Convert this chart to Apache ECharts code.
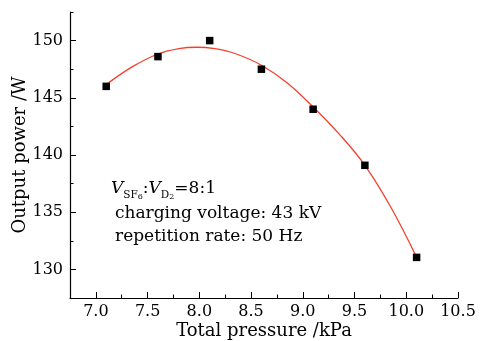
<!DOCTYPE html>
<html>
<head>
<meta charset="utf-8">
<script src="https://cdn.jsdelivr.net/npm/echarts@6/dist/echarts.min.js"></script>
<style>html,body{margin:0;padding:0;background:#fff;}#c{width:483px;height:341px;}</style>
</head>
<body>
<div id="c"></div>
<script>
// Measured points
var pressure = [7.1, 7.6, 8.1, 8.6, 9.1, 9.6, 10.1];
var power = [146.0, 148.6, 150.0, 147.5, 144.0, 139.1, 131.05];
// Fitted curve
var fitX = [7.1, 7.35, 7.6, 7.8, 7.975, 8.15, 8.35, 8.6, 8.85, 9.1, 9.35, 9.6, 9.85, 10.1];
var fitY = [146.15, 147.7, 148.83, 149.29, 149.42, 149.29, 148.85, 147.85, 146.3, 144.2, 141.85, 139.1, 135.45, 131.05];
// Tick labels
var xTicks = [7.0, 7.5, 8.0, 8.5, 9.0, 9.5, 10.0, 10.5];
var yTicks = [130, 135, 140, 145, 150];

var serif = 'DejaVu Serif';
var chart = echarts.init(document.getElementById('c'), null, {renderer: 'canvas'});
var axisCol = '#000';
chart.setOption({
  animation: false,
  backgroundColor: '#fff',
  grid: {left: 70, right: 25, top: 12, bottom: 43, containLabel: false, outerBoundsMode: 'none'},
  xAxis: [{
    type: 'value', min: 6.75, max: 10.5, interval: 0.25, position: 'bottom',
    axisLine: {show: true, lineStyle: {color: axisCol, width: 1.2}},
    axisTick: {show: true, inside: true, length: 3.5, lineStyle: {color: axisCol, width: 1}},
    axisLabel: {show: false}, splitLine: {show: false}
  }, {
    type: 'value', min: 6.75, max: 10.5, position: 'bottom',
    name: 'Total pressure /kPa', nameLocation: 'middle', nameGap: 24, nameMoveOverlap: false,
    nameTextStyle: {fontFamily: serif, fontSize: 18, color: '#000'},
    axisLine: {show: false},
    axisTick: {show: true, inside: true, length: 6, customValues: xTicks, lineStyle: {color: axisCol, width: 1}},
    axisLabel: {show: true, customValues: xTicks, margin: 6, fontFamily: serif, fontSize: 16, color: '#000',
      formatter: function (v) { return Number(v).toFixed(1); }},
    splitLine: {show: false}
  }],
  yAxis: [{
    type: 'value', min: 127.5, max: 152.5, interval: 2.5, position: 'left',
    axisLine: {show: true, lineStyle: {color: axisCol, width: 1.2}},
    axisTick: {show: true, inside: true, length: 3.5, lineStyle: {color: axisCol, width: 1}},
    axisLabel: {show: false}, splitLine: {show: false}
  }, {
    type: 'value', min: 127.5, max: 152.5, position: 'left',
    name: 'Output power /W', nameLocation: 'middle', nameGap: 41, nameRotate: 90, nameMoveOverlap: false,
    nameTextStyle: {fontFamily: serif, fontSize: 18, color: '#000'},
    axisLine: {show: false},
    axisTick: {show: true, inside: true, length: 6, customValues: yTicks, lineStyle: {color: axisCol, width: 1}},
    axisLabel: {show: true, customValues: yTicks, margin: 7, fontFamily: serif, fontSize: 16, color: '#000'},
    splitLine: {show: false}
  }],
  series: [{
    type: 'line', xAxisIndex: 0, yAxisIndex: 0,
    data: fitX.map(function (x, i) { return [x, fitY[i]]; }),
    smooth: 0.4, showSymbol: false, symbol: 'none',
    lineStyle: {color: '#f2402c', width: 1.3}, z: 2
  }, {
    type: 'scatter', xAxisIndex: 0, yAxisIndex: 0,
    data: pressure.map(function (x, i) { return [x, power[i]]; }),
    symbol: 'rect', symbolSize: 7.5,
    itemStyle: {color: '#000', opacity: 1}, z: 3
  }],
  graphic: [{
    type: 'text', left: 111, top: 180,
    style: {
      text: '{v|V}{s|SF}{ss|6}{m|:}{v|V}{s|D}{ss|2}{m|=8:1}',
      rich: {
        v: {fontFamily: serif, fontStyle: 'italic', fontSize: 17, lineHeight: 24, fill: '#000'},
        m: {fontFamily: serif, fontSize: 17, lineHeight: 24, fill: '#000'},
        s: {fontFamily: serif, fontSize: 10.5, lineHeight: 10, verticalAlign: 'bottom', fill: '#000'},
        ss: {fontFamily: serif, fontSize: 8, lineHeight: 3, verticalAlign: 'bottom', fill: '#000'}
      }
    }
  }, {
    type: 'text', left: 115, top: 205,
    style: {text: 'charging voltage: 43 kV', font: '17px "DejaVu Serif"', fill: '#000'}
  }, {
    type: 'text', left: 115, top: 228,
    style: {text: 'repetition rate: 50 Hz', font: '17px "DejaVu Serif"', fill: '#000'}
  }]
});
</script>
</body>
</html>
